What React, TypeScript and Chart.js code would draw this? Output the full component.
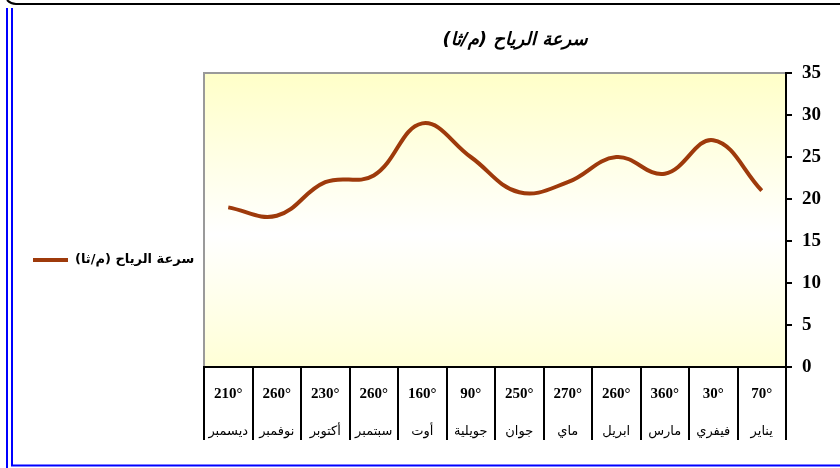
import React, { useEffect, useRef } from "react";
import { Chart, registerables } from "chart.js";

Chart.register(...registerables);

const months = ["يناير", "فيفري", "مارس", "ابريل", "ماي", "جوان", "جويلية", "أوت", "سبتمبر", "أكتوبر", "نوفمبر", "ديسمبر"];
const directions = ["70°", "30°", "360°", "260°", "270°", "250°", "90°", "160°", "260°", "230°", "260°", "210°"];
const windSpeed = [21, 27, 23, 25, 22, 20.8, 25, 29, 22.8, 22, 18, 19];
const seriesName = "سرعة الرياح (م/ثا)";
const chartTitle = "سرعة الرياح (م/ثا)";
const yMin = 0;
const yMax = 35;
const yStep = 5;

const LINE_COLOR = "#9E3A0B";

const framePlugin = {
  id: "framePlugin",
  beforeDraw(chart: any) {
    const { ctx, chartArea: a } = chart;
    ctx.direction = "ltr";
    ctx.save();
    ctx.fillStyle = "#ffffff";
    ctx.fillRect(0, 0, chart.width, chart.height);
    const g = ctx.createLinearGradient(0, a.top, 0, a.bottom);
    g.addColorStop(0, "#FFFFC8");
    g.addColorStop(0.55, "#FFFFFF");
    g.addColorStop(1, "#FFFFD6");
    ctx.fillStyle = g;
    ctx.fillRect(a.left, a.top, a.right - a.left, a.bottom - a.top);
    ctx.strokeStyle = "#9a9a9a";
    ctx.lineWidth = 2;
    ctx.beginPath();
    ctx.moveTo(a.left, a.bottom);
    ctx.lineTo(a.left, a.top);
    ctx.lineTo(a.right, a.top);
    ctx.stroke();
    ctx.restore();
  },
  afterDraw(chart: any) {
    const { ctx } = chart;
    ctx.save();
    // title
    ctx.fillStyle = "#000";
    ctx.font = "bold italic 18px 'DejaVu Sans'";
    ctx.textAlign = "center";
    ctx.textBaseline = "middle";
    ctx.fillText("\u200F" + chartTitle + "\u200F", 515, 40);
    // legend
    ctx.strokeStyle = LINE_COLOR;
    ctx.lineWidth = 4;
    ctx.beginPath();
    ctx.moveTo(33, 260);
    ctx.lineTo(68, 260);
    ctx.stroke();
    ctx.font = "bold 13px 'DejaVu Sans'";
    ctx.textAlign = "left";
    ctx.fillText("\u200F" + seriesName + "\u200F", 75, 260);
    // outer frame
    ctx.strokeStyle = "#000";
    ctx.lineWidth = 2;
    ctx.beginPath();
    ctx.moveTo(7, 0);
    ctx.quadraticCurveTo(11, 4, 16, 4);
    ctx.lineTo(840, 4);
    ctx.stroke();
    ctx.strokeStyle = "#0000FF";
    ctx.lineWidth = 2;
    ctx.beginPath();
    ctx.moveTo(7, 8);
    ctx.lineTo(7, 468);
    ctx.stroke();
    ctx.beginPath();
    ctx.moveTo(12, 8);
    ctx.lineTo(12, 465.5);
    ctx.lineTo(840, 465.5);
    ctx.stroke();
    ctx.restore();
  },
};

export default function App() {
  const ref = useRef<HTMLCanvasElement>(null);
  useEffect(() => {
    document.body.style.margin = "0";
    const chart = new Chart(ref.current!, {
      type: "line",
      data: {
        labels: directions,
        datasets: [
          {
            label: seriesName,
            data: windSpeed,
            borderColor: LINE_COLOR,
            borderWidth: 4,
            pointRadius: 0,
            tension: 0.4,
            fill: false,
            xAxisID: "x",
            yAxisID: "y",
          },
        ],
      },
      options: {
        responsive: false,
        animation: false,
        devicePixelRatio: 1,
        layout: { padding: { left: 204, top: 73, right: 0, bottom: 0 } },
        plugins: {
          legend: { display: false },
          title: { display: false },
          tooltip: { enabled: false },
        },
        scales: {
          x: {
            type: "category",
            position: "bottom",
            reverse: true,
            offset: true,
            weight: 0,
            grid: {
              offset: true,
              drawOnChartArea: false,
              drawTicks: true,
              tickLength: 73,
              color: "#000",
              lineWidth: 2,
            },
            border: { display: true, color: "#000", width: 2 },
            ticks: {
              autoSkip: false,
              maxRotation: 0,
              minRotation: 0,
              padding: -55,
              color: "#000",
              font: { family: "'Liberation Serif'", size: 15, weight: "bold" },
              callback(_v: any, i: number) {
                return "\u2066" + directions[i] + "\u2069";
              },
            },
            afterFit(scale: any) {
              scale.height = 40;
            },
          },
          x2: {
            type: "category",
            position: "bottom",
            labels: months,
            reverse: true,
            offset: true,
            weight: 1,
            grid: { display: false, drawTicks: false },
            border: { display: false },
            ticks: {
              autoSkip: false,
              maxRotation: 0,
              minRotation: 0,
              padding: 17,
              color: "#000",
              font: { family: "'DejaVu Sans'", size: 13 },
            },
            afterFit(scale: any) {
              scale.height = 61;
            },
          },
          y: {
            position: "right",
            min: yMin,
            max: yMax,
            ticks: {
              stepSize: yStep,
              padding: 10,
              color: "#000",
              font: { family: "'Liberation Serif'", size: 19, weight: "bold" },
            },
            grid: {
              drawOnChartArea: false,
              drawTicks: true,
              tickLength: 6,
              color: "#000",
              lineWidth: 2,
            },
            border: { display: true, color: "#000", width: 2 },
            afterFit(scale: any) {
              scale.width = 54;
            },
          },
        },
      },
      plugins: [framePlugin],
    } as any);
    return () => chart.destroy();
  }, []);
  return (
    <div style={{ width: 840, height: 468 }} dir="ltr">
      <canvas ref={ref} width={840} height={468} dir="ltr" style={{ display: "block", direction: "ltr" }} />
    </div>
  );
}
